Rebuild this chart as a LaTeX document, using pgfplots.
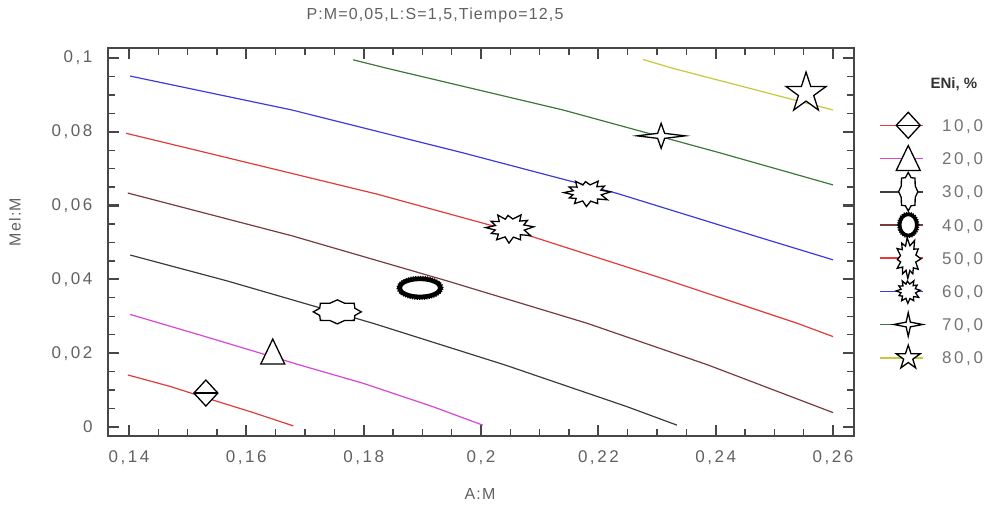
\documentclass[border=0pt]{standalone}
\usepackage{fontspec}
\setmainfont{Liberation Sans}
\newfontfamily\tickfont{Liberation Sans}[LetterSpace=15]
\newfontfamily\labfont{Liberation Sans}[LetterSpace=7]
\usepackage{pgfplots}
\pgfplotsset{compat=1.18}

\definecolor{c10}{RGB}{225,60,60}
\definecolor{c20}{RGB}{215,70,215}
\definecolor{c30}{RGB}{60,60,60}
\definecolor{c40}{RGB}{120,60,60}
\definecolor{c50}{RGB}{225,60,60}
\definecolor{c60}{RGB}{60,60,220}
\definecolor{c70}{RGB}{60,120,60}
\definecolor{c80}{RGB}{200,200,60}

\tikzset{mk/.style={draw=black, fill=white, line width=1.3pt, line join=miter, solid}}

% marks drawn by hand in the original
\pgfdeclareplotmark{dline}{%
  \filldraw[mk] (-12pt,0pt) -- (0pt,13pt) -- (12pt,0pt) -- (0pt,-13pt) -- cycle;
  \draw[mk] (-12pt,0pt) -- (12pt,0pt);}
\pgfdeclareplotmark{tri}{%
  \filldraw[mk] (-12pt,-12pt) -- (12pt,-12pt) -- (0pt,13pt) -- cycle;}
\pgfdeclareplotmark{seal}{%
  \filldraw[mk] (24pt,0pt) -- (17.55pt,3.6pt) -- (16.97pt,8.49pt) -- (7.27pt,8.68pt)
    -- (0pt,12pt) -- (-7.27pt,8.68pt) -- (-16.97pt,8.49pt) -- (-17.55pt,3.6pt)
    -- (-24pt,0pt) -- (-17.55pt,-3.6pt) -- (-16.97pt,-8.49pt) -- (-7.27pt,-8.68pt)
    -- (0pt,-12pt) -- (7.27pt,-8.68pt) -- (16.97pt,-8.49pt) -- (17.55pt,-3.6pt) -- cycle;}
\pgfdeclareplotmark{ring}{%
  \draw[black, line width=4.5pt, fill=white] (0pt,0pt) ellipse [x radius=20.5pt, y radius=9pt];
  \draw[black, line width=1.6pt, dash pattern=on 1.2pt off 1.2pt] (0pt,0pt) ellipse [x radius=22.8pt, y radius=11.3pt];}
\pgfdeclareplotmark{ringc}{%
  \draw[black, line width=3.6pt, fill=white] (0pt,0pt) ellipse [x radius=8.6pt, y radius=10.6pt];
  \draw[black, line width=1.4pt, dash pattern=on 1.2pt off 1.2pt] (0pt,0pt) ellipse [x radius=10.6pt, y radius=12.6pt];}
\pgfdeclareplotmark{burst}{%
  \filldraw[mk] (23.9pt,1.3pt) -- (14pt,3.2pt) -- (17.7pt,7.7pt) -- (9.9pt,7pt)
    -- (11.3pt,13.2pt) -- (3pt,9.1pt) -- (-1.8pt,12.7pt) -- (-4.5pt,8.9pt)
    -- (-12pt,13pt) -- (-10.5pt,6.6pt) -- (-18.7pt,6.75pt) -- (-14.3pt,2.6pt)
    -- (-24pt,0.5pt) -- (-14.6pt,-1.9pt) -- (-18.5pt,-5.4pt) -- (-11.4pt,-6pt)
    -- (-13.1pt,-11.7pt) -- (-4.7pt,-8.8pt) -- (-0.8pt,-15pt) -- (3.6pt,-9pt)
    -- (10.8pt,-11.7pt) -- (10.5pt,-6.6pt) -- (20.8pt,-7.5pt) -- (14.5pt,-2pt) -- cycle;}
\pgfdeclareplotmark{starfour}{%
  \filldraw[mk] (24pt,0pt) -- (3.5pt,2.5pt) -- (0pt,12.5pt) -- (-3.5pt,2.5pt)
    -- (-24pt,0pt) -- (-3.5pt,-2.5pt) -- (0pt,-12.5pt) -- (3.5pt,-2.5pt) -- cycle;}
\pgfdeclareplotmark{starfive}{%
  \filldraw[mk] (0pt,21pt) -- (-4.71pt,6.49pt) -- (-19.97pt,6.49pt) -- (-7.63pt,-2.48pt)
    -- (-12.34pt,-16.99pt) -- (0pt,-8.02pt) -- (12.34pt,-16.99pt) -- (7.63pt,-2.48pt)
    -- (19.97pt,6.49pt) -- (4.71pt,6.49pt) -- cycle;}

\begin{document}
\begin{tikzpicture}
\useasboundingbox (0pt,0pt) rectangle (988pt,508pt);
\begin{axis}[
    at={(108pt,72pt)}, anchor=south west,
    scale only axis, width=746pt, height=388pt,
    xmin=0.13642, xmax=0.26357,
    ymin=-0.00244, ymax=0.10271,
    clip=false,
    scaled ticks=false,
    xtick={0.14,0.16,0.18,0.2,0.22,0.24,0.26},
    xticklabels={{0,14},{0,16},{0,18},{0,2},{0,22},{0,24},{0,26}},
    ytick={0,0.02,0.04,0.06,0.08,0.1},
    yticklabels={0,{0,02},{0,04},{0,06},{0,08},{0,1}},
    minor x tick num=3, minor y tick num=3,
    tick align=inside,
    major tick length=11pt, minor tick length=7pt,
    tick style={color=black!72, line width=1.3pt},
    major tick style={line width=2.2pt},
    axis line style={color=black!72, line width=1.8pt},
    tick label style={font=\tickfont\fontsize{17}{17}\selectfont, text=black!62},
    xticklabel style={yshift=-11pt},
    yticklabel style={xshift=-12pt},
    title={P:M=0,05,L:S=1,5,Tiempo=12,5},
    title style={font=\labfont\fontsize{16}{16}\selectfont, text=black!62,
        at={(axis description cs:0.4383,1)}, anchor=center, yshift=27pt},
    xlabel={A:M},
    xlabel style={font=\labfont\fontsize{16}{16}\selectfont, text=black!62,
        at={(axis description cs:0.4987,0)}, anchor=center, yshift=-58pt},
    ylabel={Mel:M},
    ylabel style={font=\labfont\fontsize{16}{16}\selectfont, text=black!62,
        at={(axis description cs:-0.1247,0.5515)}, anchor=center},
    legend cell align=left,
    legend style={at={(axis description cs:1.0349,0.817)}, anchor=north west,
        draw=none, fill=none, inner sep=0pt, row sep=21pt,
        font=\tickfont\fontsize{17}{17}\selectfont, text=black!55,
        nodes={inner sep=0pt, text height=12.2pt, text depth=0pt}},
    legend image code/.code={%
        \begin{pgfinterruptboundingbox}
        \draw[mark repeat=2, mark phase=2, #1] plot coordinates {(0pt,0pt) (28pt,0pt) (43pt,0pt)};
        \end{pgfinterruptboundingbox}
        \path[draw=none, fill=none] (0pt,-6pt) rectangle (62pt,6pt);
    },
]
% contour lines
\addplot[c10, line width=1.2pt, forget plot] coordinates {(0.1398,0.0141) (0.1470,0.0110) (0.1533,0.0078) (0.1610,0.0040) (0.1680,0.0003)};
\addplot[c20, line width=1.2pt, forget plot] coordinates {(0.1402,0.0305) (0.1530,0.0245) (0.1691,0.0168) (0.1800,0.0118) (0.1918,0.0055) (0.2003,0.0005)};
\addplot[c30, line width=1.2pt, forget plot] coordinates {(0.1402,0.0466) (0.1567,0.0396) (0.1816,0.0281) (0.2041,0.0168) (0.2249,0.0055) (0.2334,0.0005)};
\addplot[c40, line width=1.2pt, forget plot] coordinates {(0.1398,0.0634) (0.1678,0.0518) (0.1942,0.0396) (0.2181,0.0281) (0.2387,0.0168) (0.2600,0.0039)};
\addplot[c50, line width=1.2pt, forget plot] coordinates {(0.1395,0.0796) (0.1533,0.0743) (0.1823,0.0631) (0.2089,0.0515) (0.2322,0.0396) (0.2539,0.0281) (0.2600,0.0245)};
\addplot[c60, line width=1.2pt, forget plot] coordinates {(0.1402,0.0951) (0.1678,0.0859) (0.1969,0.0743) (0.2232,0.0633) (0.2470,0.0516) (0.2600,0.0453)};
\addplot[c70, line width=1.2pt, forget plot] coordinates {(0.1782,0.0995) (0.1840,0.0972) (0.2140,0.0859) (0.2407,0.0743) (0.2600,0.0656)};
\addplot[c80, line width=1.2pt, forget plot] coordinates {(0.2276,0.0996) (0.2327,0.0972) (0.2600,0.0859)};

% level markers
\addplot[only marks, mark=dline, forget plot] coordinates {(0.1531,0.0092)};
\addplot[only marks, mark=tri, forget plot] coordinates {(0.1645,0.0203)};
\addplot[only marks, mark=seal, forget plot] coordinates {(0.1755,0.0312)};
\addplot[only marks, mark=ring, forget plot] coordinates {(0.1896,0.0377)};
\addplot[only marks, mark=burst, forget plot] coordinates {(0.2049,0.0539)};
\addplot[only marks, mark=burst, mark options={xscale=0.97,yscale=0.9}, forget plot] coordinates {(0.2181,0.0634)};
\addplot[only marks, mark=starfour, forget plot] coordinates {(0.2307,0.0789)};
\addplot[only marks, mark=starfive, forget plot] coordinates {(0.2554,0.0905)};

\addlegendimage{c10, line width=1.6pt, mark=dline}
\addlegendentry{10,0}
\addlegendimage{c20, line width=1.6pt, mark=tri}
\addlegendentry{20,0}
\addlegendimage{c30, line width=1.6pt, mark=seal, mark options={rotate=90, scale=0.8}}
\addlegendentry{30,0}
\addlegendimage{c40, line width=1.6pt, mark=ringc}
\addlegendentry{40,0}
\addlegendimage{c50, line width=1.6pt, mark=burst, mark options={rotate=90, scale=0.85}}
\addlegendentry{50,0}
\addlegendimage{c60, line width=1.6pt, mark=burst, mark options={xscale=0.5, yscale=0.8}}
\addlegendentry{60,0}
\addlegendimage{c70, line width=1.6pt, mark=starfour, mark options={xscale=0.6, yscale=0.95}}
\addlegendentry{70,0}
\addlegendimage{c80, line width=1.6pt, mark=starfive, mark options={scale=0.6}}
\addlegendentry{80,0}

\node[font=\bfseries\fontsize{15}{15}\selectfont, text=black!80, anchor=center]
    at (axis description cs:1.134,0.907) {ENi, \%};
\end{axis}
\end{tikzpicture}
\end{document}
